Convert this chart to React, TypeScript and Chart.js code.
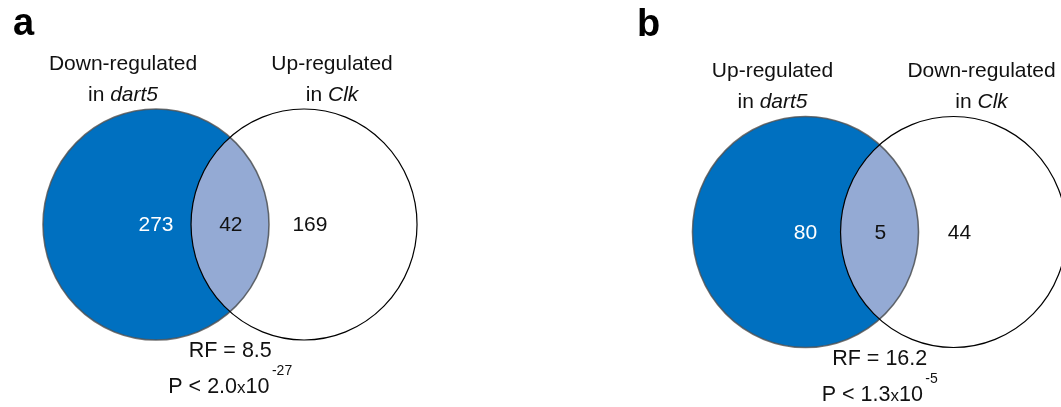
import { useEffect, useRef } from 'react';
import { Chart, registerables } from 'chart.js';

Chart.register(...registerables);

// Venn panels: gene sets compared between dart5 and Clk
const panelLetters = ['a', 'b'];
const leftSetTitles = ['Down-regulated', 'Up-regulated'];
const rightSetTitles = ['Up-regulated', 'Down-regulated'];
const leftSetGenotype = 'dart5';
const rightSetGenotype = 'Clk';
const leftOnlyCounts = [273, 80];
const sharedCounts = [42, 5];
const rightOnlyCounts = [169, 44];
const rfValues = ['8.5', '16.2'];
const pMantissas = ['2.0', '1.3'];
const pExponents = ['-27', '-5'];

// Circle geometry in radius units (x along the panel, y up)
const circleCentersX = [0, 1.31];
const circleRadius = 1;

// Layout
const PAGE_H = 407;
const PX_PER_UNIT_X = 113;
const PX_PER_UNIT_Y = 115.5;
const PANELS = [
  { left: 0, width: 530, cx: 156, cy: 224.5, letterX: 13, letterY: 35 },
  { left: 530, width: 531, cx: 275.5, cy: 232, letterX: 107, letterY: 36 },
];
const FONT = '"Liberation Sans", Arial, Helvetica, sans-serif';
const BLUE = '#0070C0';
const OVERLAP = '#94AAD4';
const INK = '#111111';

// label anchors in radius units
const TITLE_LEFT_X = -0.292;
const TITLE_RIGHT_X = 1.558;
const TITLE_LINE1_Y = 1.34;
const TITLE_LINE2_Y = 1.07;
const COUNT_Y = -0.06;
const COUNT_X = [0, 0.662, 1.362];
const STATS_X = 0.657;
const RF_Y = -1.149;
const P_Y = -1.461;

function drawTitle(ctx: CanvasRenderingContext2D, x: number, y1: number, y2: number, title: string, genotype: string) {
  ctx.textBaseline = 'alphabetic';
  ctx.textAlign = 'center';
  ctx.fillStyle = INK;
  ctx.font = `21px ${FONT}`;
  ctx.fillText(title, x, y1);
  const pre = 'in ';
  const wPre = ctx.measureText(pre).width;
  ctx.font = `italic 21px ${FONT}`;
  const wGen = ctx.measureText(genotype).width;
  const start = x - (wPre + wGen) / 2;
  ctx.textAlign = 'left';
  ctx.font = `21px ${FONT}`;
  ctx.fillText(pre, start, y2);
  ctx.font = `italic 21px ${FONT}`;
  ctx.fillText(genotype, start + wPre, y2);
}

function makeVennPlugin(idx: number) {
  return {
    id: 'venn' + idx,
    afterDatasetsDraw(chart: any) {
      const ctx: CanvasRenderingContext2D = chart.ctx;
      const xs = chart.scales.x;
      const ys = chart.scales.y;
      const pts = chart.data.datasets[0].data as { x: number; y: number }[];
      const circles = pts.map((p) => {
        const px = xs.getPixelForValue(p.x);
        const py = ys.getPixelForValue(p.y);
        const rx = xs.getPixelForValue(p.x + circleRadius) - px;
        const ry = py - ys.getPixelForValue(p.y + circleRadius);
        return { px, py, rx, ry };
      });
      const path = (c: { px: number; py: number; rx: number; ry: number }) => {
        ctx.beginPath();
        ctx.ellipse(c.px, c.py, c.rx, c.ry, 0, 0, Math.PI * 2);
      };
      const [a, b] = circles;

      ctx.save();
      // left set
      path(a);
      ctx.fillStyle = BLUE;
      ctx.fill();
      // shared region
      ctx.save();
      path(b);
      ctx.clip();
      path(a);
      ctx.fillStyle = OVERLAP;
      ctx.fill();
      ctx.restore();
      // soft rim of the left set
      ctx.save();
      ctx.filter = 'blur(0.6px)';
      path(a);
      ctx.strokeStyle = 'rgba(80,80,80,0.8)';
      ctx.lineWidth = 1.6;
      ctx.stroke();
      ctx.restore();
      // right set outline
      path(b);
      ctx.strokeStyle = '#000000';
      ctx.lineWidth = 1.2;
      ctx.stroke();

      const X = (v: number) => xs.getPixelForValue(v);
      const Y = (v: number) => ys.getPixelForValue(v);

      // panel letter
      ctx.fillStyle = '#000';
      ctx.font = `bold 38px ${FONT}`;
      ctx.textAlign = 'left';
      ctx.textBaseline = 'alphabetic';
      ctx.fillText(panelLetters[idx], PANELS[idx].letterX, PANELS[idx].letterY);

      // set titles
      drawTitle(ctx, X(TITLE_LEFT_X), Y(TITLE_LINE1_Y), Y(TITLE_LINE2_Y), leftSetTitles[idx], leftSetGenotype);
      drawTitle(ctx, X(TITLE_RIGHT_X), Y(TITLE_LINE1_Y), Y(TITLE_LINE2_Y), rightSetTitles[idx], rightSetGenotype);

      // counts
      ctx.textAlign = 'center';
      ctx.textBaseline = 'alphabetic';
      ctx.font = `21px ${FONT}`;
      const counts = [leftOnlyCounts[idx], sharedCounts[idx], rightOnlyCounts[idx]];
      counts.forEach((n, i) => {
        ctx.fillStyle = i === 0 ? '#ffffff' : INK;
        ctx.fillText(String(n), X(COUNT_X[i]), Y(COUNT_Y));
      });

      // statistics
      ctx.fillStyle = INK;
      ctx.font = `21.5px ${FONT}`;
      ctx.fillText(`RF = ${rfValues[idx]}`, X(STATS_X), Y(RF_Y));

      const main = `P < ${pMantissas[idx]}`;
      ctx.font = `21.5px ${FONT}`;
      const wMain = ctx.measureText(main).width;
      const wTen = ctx.measureText('10').width;
      ctx.font = `17px ${FONT}`;
      const wX = ctx.measureText('x').width;
      ctx.font = `14px ${FONT}`;
      const wExp = ctx.measureText(pExponents[idx]).width;
      const gap = 2.5;
      const total = wMain + wX + wTen + gap + wExp;
      let cx = X(STATS_X) - total / 2;
      const by = Y(P_Y);
      ctx.textAlign = 'left';
      ctx.font = `21.5px ${FONT}`;
      ctx.fillText(main, cx, by);
      cx += wMain;
      ctx.font = `17px ${FONT}`;
      ctx.fillText('x', cx, by);
      cx += wX;
      ctx.font = `21.5px ${FONT}`;
      ctx.fillText('10', cx, by);
      cx += wTen + gap;
      ctx.font = `14px ${FONT}`;
      ctx.fillText(pExponents[idx], cx, by - 18);
      ctx.restore();
    },
  };
}

function VennPanel({ idx }: { idx: number }) {
  const ref = useRef<HTMLCanvasElement | null>(null);
  const p = PANELS[idx];
  useEffect(() => {
    if (!ref.current) return;
    const chart = new Chart(ref.current, {
      type: 'scatter',
      data: {
        datasets: [
          {
            data: circleCentersX.map((x) => ({ x, y: 0 })),
            pointRadius: 0,
            showLine: false,
          },
        ],
      },
      options: {
        animation: false,
        responsive: false,
        events: [],
        layout: { padding: 0 },
        plugins: { legend: { display: false }, tooltip: { enabled: false } },
        scales: {
          x: {
            type: 'linear',
            display: false,
            min: -p.cx / PX_PER_UNIT_X,
            max: (p.width - p.cx) / PX_PER_UNIT_X,
          },
          y: {
            type: 'linear',
            display: false,
            min: -(PAGE_H - p.cy) / PX_PER_UNIT_Y,
            max: p.cy / PX_PER_UNIT_Y,
          },
        },
      },
      plugins: [makeVennPlugin(idx)],
    });
    return () => chart.destroy();
  }, [idx]);
  return (
    <canvas
      ref={ref}
      width={p.width}
      height={PAGE_H}
      style={{ position: 'absolute', left: p.left, top: 0, width: p.width, height: PAGE_H }}
    />
  );
}

export default function App() {
  return (
    <div style={{ position: 'absolute', left: 0, top: 0, width: 1061, height: PAGE_H, background: '#fff', overflow: 'hidden' }}>
      <VennPanel idx={0} />
      <VennPanel idx={1} />
    </div>
  );
}
